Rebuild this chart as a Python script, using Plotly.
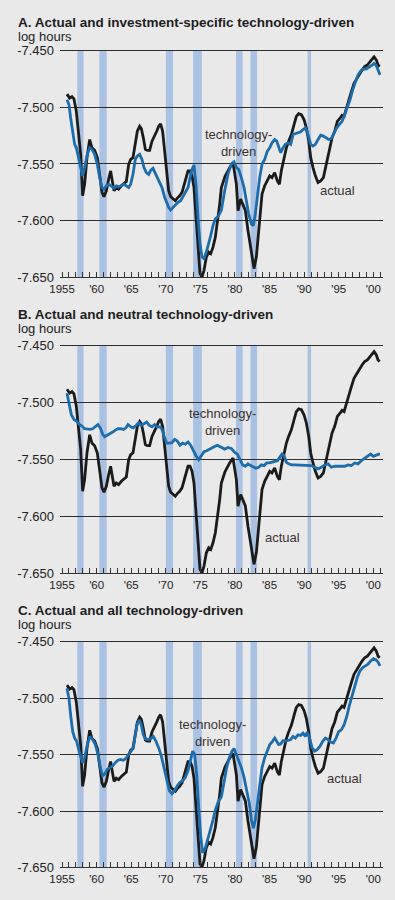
import plotly.graph_objects as go

# ---------------- data ----------------
recession_start = [1957.2, 1960.4, 1970.0, 1973.95, 1980.15, 1982.25, 1990.5]
recession_end = [1958.1, 1961.45, 1971.05, 1975.2, 1981.1, 1983.2, 1991.0]

# actual log hours (same in all three panels): (year, value)
actual = [
    (1955.71, -7.4883), (1956.09, -7.4918), (1956.43, -7.4904), (1956.72, -7.4924),
    (1957.06, -7.5035), (1957.40, -7.5211), (1957.69, -7.5415), (1957.97, -7.5781),
    (1958.26, -7.5678), (1958.60, -7.5444), (1958.99, -7.5284), (1959.32, -7.5357),
    (1959.71, -7.5380), (1960.10, -7.5444), (1960.43, -7.5620), (1960.77, -7.5751),
    (1961.06, -7.5789), (1961.40, -7.5737), (1961.73, -7.5635), (1962.02, -7.5561),
    (1962.26, -7.5649), (1962.51, -7.5737), (1962.84, -7.5708), (1963.18, -7.5722),
    (1963.57, -7.5693), (1963.95, -7.5673), (1964.29, -7.5655), (1964.63, -7.5503),
    (1964.92, -7.5459), (1965.25, -7.5444), (1965.59, -7.5327), (1965.88, -7.5211),
    (1966.22, -7.5167), (1966.46, -7.5187), (1966.75, -7.5269), (1967.04, -7.5371),
    (1967.33, -7.5380), (1967.66, -7.5380), (1968.00, -7.5298), (1968.39, -7.5254),
    (1968.68, -7.5211), (1968.97, -7.5167), (1969.25, -7.5146), (1969.54, -7.5211),
    (1969.83, -7.5386), (1970.12, -7.5591), (1970.41, -7.5737), (1970.70, -7.5789),
    (1971.04, -7.5810), (1971.38, -7.5825), (1971.66, -7.5801), (1972.00, -7.5781),
    (1972.34, -7.5751), (1972.63, -7.5693), (1972.97, -7.5605), (1973.21, -7.5561),
    (1973.50, -7.5561), (1973.79, -7.5605), (1974.07, -7.5708), (1974.36, -7.5971),
    (1974.65, -7.6263), (1974.94, -7.6468), (1975.23, -7.6497), (1975.52, -7.6439),
    (1975.86, -7.6322), (1976.20, -7.6278), (1976.49, -7.6292), (1976.82, -7.6234),
    (1977.16, -7.6146), (1977.45, -7.6029), (1977.79, -7.5854), (1978.03, -7.5708),
    (1978.55, -7.5610), (1979.23, -7.5532), (1979.71, -7.5488), (1980.20, -7.5678),
    (1980.44, -7.5912), (1980.82, -7.5810), (1981.16, -7.5854), (1981.50, -7.5910),
    (1981.88, -7.6088), (1982.27, -7.6234), (1982.56, -7.6350), (1982.75, -7.6424),
    (1983.09, -7.6320), (1983.33, -7.6146), (1983.62, -7.5910), (1983.91, -7.5766),
    (1984.29, -7.5693), (1984.68, -7.5649), (1985.02, -7.5605), (1985.35, -7.5620),
    (1985.74, -7.5576), (1986.13, -7.5650), (1986.42, -7.5680), (1986.70, -7.5560),
    (1987.09, -7.5444), (1987.43, -7.5357), (1987.76, -7.5298), (1988.15, -7.5240),
    (1988.54, -7.5152), (1988.87, -7.5080), (1989.21, -7.5056), (1989.60, -7.5064),
    (1989.98, -7.5108), (1990.32, -7.5180), (1990.66, -7.5298), (1990.95, -7.5444),
    (1991.28, -7.5532), (1991.62, -7.5605), (1992.01, -7.5664), (1992.39, -7.5650),
    (1992.78, -7.5620), (1993.07, -7.5532), (1993.45, -7.5415), (1993.74, -7.5327),
    (1994.03, -7.5269), (1994.42, -7.5210), (1994.80, -7.5123), (1995.19, -7.5094),
    (1995.48, -7.5070), (1995.77, -7.5080), (1996.10, -7.5006), (1996.44, -7.4933),
    (1996.83, -7.4860), (1997.21, -7.4787), (1997.60, -7.4743), (1997.98, -7.4713),
    (1998.37, -7.4670), (1998.75, -7.4640), (1999.14, -7.4626), (1999.53, -7.4596),
    (1999.82, -7.4573), (2000.11, -7.4553), (2000.44, -7.4582), (2000.68, -7.4626),
    (2000.92, -7.4640),
]

# investment-specific technology-driven (panel A)
invest_tech = [
    (1955.71, -7.4933), (1956.00, -7.4977), (1956.24, -7.5094), (1956.53, -7.5211),
    (1956.82, -7.5327), (1957.06, -7.5357), (1957.40, -7.5444), (1957.69, -7.5532),
    (1957.97, -7.5605), (1958.26, -7.5532), (1958.65, -7.5415), (1958.99, -7.5357),
    (1959.32, -7.5371), (1959.71, -7.5415), (1960.10, -7.5503), (1960.43, -7.5620),
    (1960.77, -7.5708), (1961.06, -7.5722), (1961.40, -7.5693), (1961.73, -7.5678),
    (1962.12, -7.5693), (1962.51, -7.5713), (1962.84, -7.5693), (1963.18, -7.5702),
    (1963.57, -7.5693), (1963.95, -7.5678), (1964.29, -7.5693), (1964.63, -7.5708),
    (1964.92, -7.5678), (1965.25, -7.5591), (1965.59, -7.5459), (1965.88, -7.5430),
    (1966.22, -7.5415), (1966.55, -7.5459), (1966.84, -7.5532), (1967.18, -7.5576),
    (1967.52, -7.5591), (1967.81, -7.5556), (1968.15, -7.5538), (1968.48, -7.5576),
    (1968.77, -7.5620), (1969.11, -7.5664), (1969.45, -7.5708), (1969.83, -7.5795),
    (1970.12, -7.5839), (1970.41, -7.5883), (1970.70, -7.5906), (1971.04, -7.5883),
    (1971.38, -7.5868), (1971.76, -7.5839), (1972.15, -7.5825), (1972.48, -7.5789),
    (1972.82, -7.5751), (1973.21, -7.5708), (1973.50, -7.5620), (1973.79, -7.5547),
    (1974.07, -7.5509), (1974.36, -7.5678), (1974.65, -7.5971), (1974.94, -7.6205),
    (1975.23, -7.6322), (1975.52, -7.6336), (1975.86, -7.6278), (1976.20, -7.6205),
    (1976.49, -7.6132), (1976.82, -7.6044), (1977.16, -7.5985), (1977.55, -7.5965),
    (1978.03, -7.5910), (1978.51, -7.5737), (1978.99, -7.5590), (1979.47, -7.5500),
    (1979.86, -7.5480), (1980.20, -7.5532), (1980.53, -7.5547), (1980.92, -7.5620),
    (1981.31, -7.5708), (1981.64, -7.5825), (1981.98, -7.5942), (1982.37, -7.6029),
    (1982.66, -7.6044), (1982.94, -7.5942), (1983.23, -7.5766), (1983.57, -7.5620),
    (1983.91, -7.5503), (1984.29, -7.5459), (1984.68, -7.5386), (1985.02, -7.5357),
    (1985.35, -7.5313), (1985.74, -7.5284), (1986.03, -7.5298), (1986.32, -7.5357),
    (1986.61, -7.5400), (1986.95, -7.5357), (1987.28, -7.5327), (1987.67, -7.5313),
    (1988.05, -7.5327), (1988.39, -7.5240), (1988.73, -7.5234), (1989.11, -7.5225),
    (1989.50, -7.5216), (1989.84, -7.5196), (1990.18, -7.5181), (1990.56, -7.5240),
    (1990.95, -7.5327), (1991.28, -7.5342), (1991.62, -7.5327), (1992.01, -7.5284),
    (1992.39, -7.5246), (1992.78, -7.5254), (1993.16, -7.5269), (1993.55, -7.5284),
    (1993.93, -7.5275), (1994.32, -7.5225), (1994.71, -7.5181), (1995.09, -7.5152),
    (1995.48, -7.5123), (1995.86, -7.5064), (1996.25, -7.5006), (1996.63, -7.4933),
    (1997.02, -7.4845), (1997.41, -7.4772), (1997.79, -7.4713), (1998.18, -7.4678),
    (1998.56, -7.4661), (1998.95, -7.4661), (1999.33, -7.4649), (1999.72, -7.4632),
    (2000.11, -7.4611), (2000.39, -7.4626), (2000.68, -7.4670), (2000.97, -7.4713),
]

# neutral technology-driven (panel B)
neutral_tech = [
    (1955.71, -7.4919), (1956.00, -7.5006), (1956.34, -7.5107), (1956.72, -7.5150),
    (1957.11, -7.5165), (1957.49, -7.5194), (1957.88, -7.5208), (1958.26, -7.5231),
    (1958.65, -7.5237), (1959.03, -7.5237), (1959.42, -7.5231), (1959.81, -7.5214),
    (1960.19, -7.5194), (1960.53, -7.5223), (1960.87, -7.5280), (1961.16, -7.5301),
    (1961.54, -7.5289), (1961.93, -7.5272), (1962.31, -7.5260), (1962.70, -7.5243),
    (1963.08, -7.5231), (1963.47, -7.5231), (1963.86, -7.5237), (1964.24, -7.5223),
    (1964.53, -7.5194), (1964.92, -7.5214), (1965.30, -7.5223), (1965.69, -7.5202),
    (1966.07, -7.5179), (1966.46, -7.5202), (1966.84, -7.5185), (1967.23, -7.5173),
    (1967.62, -7.5202), (1968.00, -7.5214), (1968.39, -7.5194), (1968.77, -7.5214),
    (1969.16, -7.5214), (1969.45, -7.5237), (1969.74, -7.5295), (1970.12, -7.5358),
    (1970.51, -7.5358), (1970.89, -7.5353), (1971.28, -7.5324), (1971.66, -7.5338),
    (1972.05, -7.5376), (1972.44, -7.5358), (1972.82, -7.5367), (1973.21, -7.5347),
    (1973.59, -7.5376), (1973.98, -7.5425), (1974.36, -7.5468), (1974.75, -7.5503),
    (1975.14, -7.5468), (1975.52, -7.5433), (1975.91, -7.5425), (1976.29, -7.5410),
    (1976.68, -7.5396), (1977.06, -7.5387), (1977.45, -7.5376), (1978.03, -7.5396),
    (1978.51, -7.5410), (1978.99, -7.5396), (1979.47, -7.5405), (1979.96, -7.5439),
    (1980.34, -7.5454), (1980.73, -7.5503), (1981.11, -7.5549), (1981.50, -7.5561),
    (1981.88, -7.5540), (1982.27, -7.5555), (1982.66, -7.5570), (1983.04, -7.5578),
    (1983.43, -7.5570), (1983.81, -7.5549), (1984.20, -7.5555), (1984.58, -7.5532),
    (1984.97, -7.5532), (1985.35, -7.5526), (1985.74, -7.5520), (1986.13, -7.5512),
    (1986.46, -7.5483), (1986.80, -7.5454), (1987.09, -7.5468), (1987.43, -7.5526),
    (1987.76, -7.5540), (1988.15, -7.5549), (1988.63, -7.5549), (1989.11, -7.5549),
    (1989.60, -7.5555), (1990.08, -7.5549), (1990.56, -7.5549), (1991.04, -7.5555),
    (1991.52, -7.5570), (1992.01, -7.5584), (1992.49, -7.5570), (1992.97, -7.5549),
    (1993.45, -7.5540), (1993.93, -7.5570), (1994.42, -7.5561), (1994.90, -7.5561),
    (1995.38, -7.5564), (1995.86, -7.5561), (1996.34, -7.5549), (1996.83, -7.5555),
    (1997.31, -7.5532), (1997.79, -7.5540), (1998.27, -7.5512), (1998.75, -7.5491),
    (1999.24, -7.5474), (1999.62, -7.5454), (2000.01, -7.5474), (2000.39, -7.5462),
    (2000.78, -7.5454), (2000.97, -7.5454),
]

# all technology-driven (panel C)
all_tech = [
    (1955.71, -7.4910), (1956.00, -7.5003), (1956.24, -7.5149), (1956.53, -7.5294),
    (1956.82, -7.5353), (1957.11, -7.5382), (1957.40, -7.5454), (1957.69, -7.5527),
    (1957.97, -7.5571), (1958.26, -7.5527), (1958.65, -7.5411), (1959.03, -7.5338),
    (1959.42, -7.5367), (1959.81, -7.5411), (1960.19, -7.5498), (1960.53, -7.5615),
    (1960.87, -7.5687), (1961.16, -7.5673), (1961.54, -7.5629), (1961.93, -7.5615),
    (1962.31, -7.5600), (1962.70, -7.5571), (1963.08, -7.5550), (1963.47, -7.5542),
    (1963.86, -7.5550), (1964.24, -7.5533), (1964.53, -7.5504), (1964.92, -7.5469),
    (1965.30, -7.5440), (1965.59, -7.5324), (1965.88, -7.5222), (1966.17, -7.5193),
    (1966.46, -7.5236), (1966.75, -7.5324), (1967.04, -7.5358), (1967.42, -7.5367),
    (1967.81, -7.5358), (1968.19, -7.5338), (1968.58, -7.5382), (1968.97, -7.5440),
    (1969.35, -7.5513), (1969.74, -7.5615), (1970.12, -7.5731), (1970.51, -7.5818),
    (1970.89, -7.5847), (1971.28, -7.5818), (1971.66, -7.5775), (1972.05, -7.5745),
    (1972.44, -7.5731), (1972.82, -7.5702), (1973.21, -7.5644), (1973.59, -7.5542),
    (1973.88, -7.5469), (1974.17, -7.5498), (1974.46, -7.5673), (1974.75, -7.5964),
    (1975.04, -7.6226), (1975.33, -7.6371), (1975.62, -7.6342), (1975.91, -7.6284),
    (1976.20, -7.6226), (1976.49, -7.6167), (1976.82, -7.6080), (1977.16, -7.5993),
    (1977.55, -7.5920), (1978.03, -7.5876), (1978.41, -7.5731), (1978.80, -7.5615),
    (1979.18, -7.5527), (1979.57, -7.5469), (1979.86, -7.5446), (1980.20, -7.5498),
    (1980.53, -7.5556), (1980.92, -7.5615), (1981.31, -7.5702), (1981.69, -7.5804),
    (1982.08, -7.5935), (1982.37, -7.6080), (1982.66, -7.6153), (1982.94, -7.6080),
    (1983.23, -7.5935), (1983.57, -7.5760), (1983.91, -7.5615), (1984.29, -7.5527),
    (1984.68, -7.5454), (1985.02, -7.5411), (1985.35, -7.5388), (1985.74, -7.5353),
    (1986.03, -7.5382), (1986.32, -7.5411), (1986.61, -7.5405), (1986.95, -7.5376),
    (1987.28, -7.5382), (1987.67, -7.5376), (1988.05, -7.5367), (1988.39, -7.5338),
    (1988.73, -7.5353), (1989.11, -7.5324), (1989.50, -7.5329), (1989.84, -7.5309),
    (1990.18, -7.5338), (1990.46, -7.5300), (1990.80, -7.5353), (1991.14, -7.5440),
    (1991.52, -7.5469), (1991.91, -7.5454), (1992.30, -7.5425), (1992.68, -7.5382),
    (1993.07, -7.5353), (1993.45, -7.5367), (1993.84, -7.5388), (1994.22, -7.5396),
    (1994.61, -7.5353), (1995.00, -7.5294), (1995.38, -7.5280), (1995.77, -7.5236),
    (1996.15, -7.5164), (1996.54, -7.5062), (1996.92, -7.4974), (1997.31, -7.4887),
    (1997.69, -7.4814), (1998.08, -7.4756), (1998.47, -7.4727), (1998.85, -7.4712),
    (1999.24, -7.4698), (1999.62, -7.4669), (2000.01, -7.4648), (2000.39, -7.4660),
    (2000.68, -7.4678), (2000.97, -7.4712),
]

tick_years = list(range(1955, 2002))
tick_labels = {1955: "1955", 1960: "'60", 1965: "'65", 1970: "'70", 1975: "'75",
               1980: "'80", 1985: "'85", 1990: "'90", 1995: "'95", 2000: "'00"}
y_ticks = [-7.65, -7.60, -7.55, -7.50, -7.45]
y_tick_text = ["-7.650", "-7.600", "-7.550", "-7.500", "-7.450"]

panel_titles = ["A. Actual and investment-specific technology-driven",
                "B. Actual and neutral technology-driven",
                "C. Actual and all technology-driven"]
unit_label = "log hours"
tech_label = "technology-<br>driven"
actual_label = "actual"

# ---------------- styling / layout ----------------
W, H = 395, 900
ML, MR = 60, 12
FONT = "Liberation Sans, Arial, Helvetica, sans-serif"
BG = "#e9e9e9"
BAND = "#a9c1e3"
BLACK = "#1b1b1b"
BLUE = "#1d6cab"
TXT = "#222222"
LBL = "#3a3232"


def py(p):
    return 1 - p / H


def pxp(p):
    return (p - ML) / (W - ML - MR)


panels = [
    dict(top=44.1, bottom=275.5, title_y=16.5, unit_y=31.0, tech=invest_tech,
         tech_pos=(1980.5, -7.5312), actual_pos=(1994.75, -7.5737)),
    dict(top=343.6, bottom=576.0, title_y=313.0, unit_y=327.5, tech=neutral_tech,
         tech_pos=(1978.2, -7.5171), actual_pos=(1986.8, -7.6188)),
    dict(top=644.6, bottom=875.0, title_y=614.0, unit_y=628.5, tech=all_tech,
         tech_pos=(1976.72, -7.5306), actual_pos=(1995.77, -7.5714)),
]

fig = go.Figure()
shapes = []
annotations = []

for i, p in enumerate(panels):
    n = "" if i == 0 else str(i + 1)
    xr, yr = "x" + n, "y" + n
    fig.add_trace(go.Scatter(x=[d[0] for d in actual], y=[d[1] for d in actual],
                             mode="lines", line=dict(color=BLACK, width=2.8),
                             xaxis=xr, yaxis=yr, showlegend=False, hoverinfo="skip"))
    fig.add_trace(go.Scatter(x=[d[0] for d in p["tech"]], y=[d[1] for d in p["tech"]],
                             mode="lines", line=dict(color=BLUE, width=2.8),
                             xaxis=xr, yaxis=yr, showlegend=False, hoverinfo="skip"))
    for s, e in zip(recession_start, recession_end):
        shapes.append(dict(type="rect", xref=xr, yref=yr, x0=s, x1=e,
                           y0=y_ticks[0], y1=y_ticks[-1], fillcolor=BAND,
                           line=dict(width=0), layer="below"))
    dom = [py(p["bottom"]), py(p["top"])]
    fig.layout["xaxis" + n] = dict(
        domain=[0, 1], anchor=yr, range=[1954.7, 2001.4],
        tickmode="array", tickvals=tick_years,
        ticktext=[tick_labels.get(t, "") for t in tick_years],
        ticks="inside", ticklen=5, tickwidth=1, tickcolor="#333333",
        showline=True, linecolor="#333333", linewidth=1,
        showgrid=False, zeroline=False,
        tickfont=dict(family=FONT, size=11.5, color=TXT), ticklabelstandoff=1,
        fixedrange=True)
    fig.layout["yaxis" + n] = dict(
        domain=dom, anchor=xr, range=[-7.65, -7.4488],
        tickmode="array", tickvals=y_ticks, ticktext=y_tick_text,
        showgrid=True, gridcolor="#2e2e2e", gridwidth=1,
        zeroline=False, showline=False, ticks="",
        tickfont=dict(family=FONT, size=13, color=TXT), ticklabelstandoff=5,
        fixedrange=True)
    annotations.append(dict(xref="paper", yref="paper", x=pxp(16), y=py(p["title_y"]),
                            xanchor="left", yanchor="middle", showarrow=False,
                            text="<b>" + panel_titles[i] + "</b>",
                            font=dict(family=FONT, size=13.5, color="#1e1e1e")))
    annotations.append(dict(xref="paper", yref="paper", x=pxp(16), y=py(p["unit_y"]),
                            xanchor="left", yanchor="middle", showarrow=False,
                            text=unit_label,
                            font=dict(family=FONT, size=13, color=TXT)))
    annotations.append(dict(xref=xr, yref=yr, x=p["tech_pos"][0], y=p["tech_pos"][1],
                            xanchor="center", yanchor="middle", showarrow=False,
                            text=tech_label, align="center",
                            font=dict(family=FONT, size=13, color=LBL)))
    annotations.append(dict(xref=xr, yref=yr, x=p["actual_pos"][0], y=p["actual_pos"][1],
                            xanchor="center", yanchor="middle", showarrow=False,
                            text=actual_label,
                            font=dict(family=FONT, size=13, color=LBL)))

fig.update_layout(width=W, height=H, margin=dict(l=ML, r=MR, t=0, b=0),
                  paper_bgcolor=BG, plot_bgcolor=BG, shapes=shapes,
                  annotations=annotations, showlegend=False)

fig.write_html("out.html", config={"displayModeBar": False},
               post_script="document.body.style.margin='0px';"
                           "document.body.style.overflow='hidden';")
